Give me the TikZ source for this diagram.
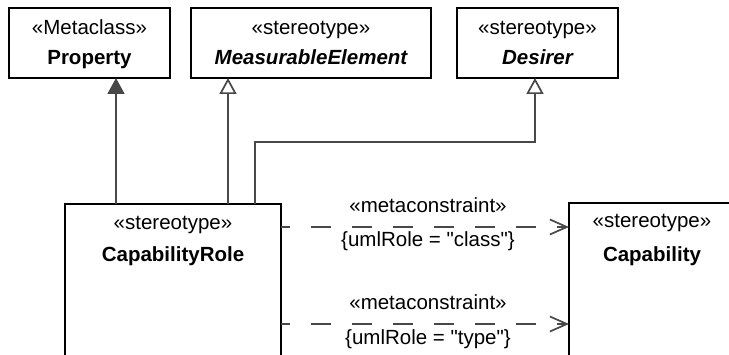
\documentclass[tikz,border=0pt]{standalone}
\usepackage{fontspec}
\setmainfont{Liberation Sans}[Ligatures=TeXOff]
\usetikzlibrary{arrows.meta}
\definecolor{conn}{RGB}{72,72,72}
\tikzset{
  box/.style={draw=black, line width=1.6pt, inner sep=0pt, outer sep=0pt, fill=white},
  txt/.style={anchor=base, inner sep=0pt, font=\fontsize{20.5pt}{24pt}\selectfont},
  conline/.style={draw=conn, line width=1.7pt},
  genfill/.style={conline, -{Triangle[width=17pt,length=16pt,fill=conn]}},
  genopen/.style={conline, -{Triangle[open,width=17pt,length=16pt,fill=white]}},
  depline/.style={conline, dash pattern=on 20pt off 21pt, dash phase=11pt, -{Straight Barb[length=17pt,width=15pt]}},
}
\begin{document}
\begin{tikzpicture}[x=1pt,y=-1pt]
\useasboundingbox (0,0) rectangle (729,355);
\clip (0,0) rectangle (729,355);
\fill[white] (0,0) rectangle (729,355);

% boxes
\node[box, minimum width=161pt, minimum height=70pt] (prop) at (89.5,43) {};
\node[box, minimum width=240pt, minimum height=70pt] (meas) at (311,43) {};
\node[box, minimum width=161pt, minimum height=70pt] (des) at (537.5,43) {};
\node[box, minimum width=216pt, minimum height=216pt] (cr) at (173,312) {};
\node[box, minimum width=166pt, minimum height=216pt] (cap) at (652,311) {};

% texts
\node[txt] (propS) at (89.5,35) {«Metaclass»};
\node[txt] (propN) at (89.5,65) {\bfseries Property};
\node[txt] (measS) at (311,35) {«stereotype»};
\node[txt] (measN) at (311,65) {\bfseries\itshape MeasurableElement};
\node[txt] (desS) at (537.5,35) {«stereotype»};
\node[txt] (desN) at (537.5,65) {\bfseries\itshape Desirer};
\node[txt] (crS) at (173,230) {«stereotype»};
\node[txt] (crN) at (173,262) {\bfseries CapabilityRole};
\node[txt] (capS) at (652,228) {«stereotype»};
\node[txt] (capN) at (652,262) {\bfseries Capability};

% generalizations
\coordinate (xp) at (116,0);
\coordinate (xm) at (228,0);
\coordinate (xd1) at (255,142);
\coordinate (xd2) at (535,142);
\draw[genfill] (cr.north -| xp) -- (prop.south -| xp);
\draw[genopen] (cr.north -| xm) -- (meas.south -| xm);
\draw[genopen] (cr.north -| xd1) -- (xd1) -- (xd2) -- (des.south -| xd2);

% dependencies
\coordinate (y1) at (0,227);
\coordinate (y2) at (0,324);
\draw[depline] (cr.east |- y1) -- (cap.west |- y1);
\draw[depline] (cr.east |- y2) -- (cap.west |- y2);
\node[txt] (m1) at (428,213) {«metaconstraint»};
\node[txt] (c1) at (428,247) {\{umlRole = "class"\}};
\node[txt] (m2) at (428,310) {«metaconstraint»};
\node[txt] (c2) at (428,345) {\{umlRole = "type"\}};
\end{tikzpicture}
\end{document}
